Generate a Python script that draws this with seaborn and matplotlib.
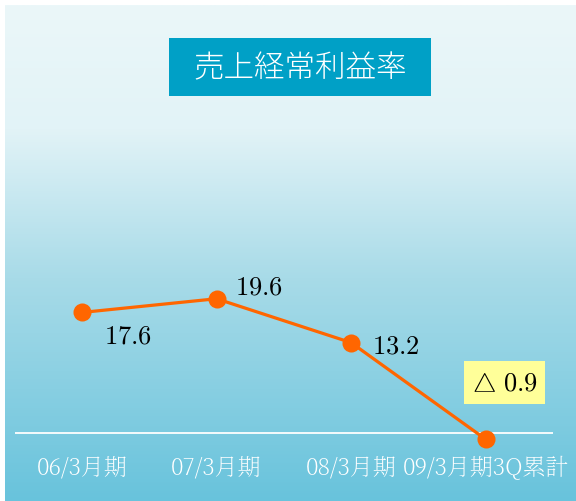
import numpy as np
import pandas as pd
import matplotlib
matplotlib.use("Agg")
import matplotlib.pyplot as plt
import seaborn as sns
from matplotlib.colors import LinearSegmentedColormap
from matplotlib.patches import Rectangle

categories = ["06/3月期", "07/3月期", "08/3月期", "09/3月期3Q累計"]
values = [17.6, 19.6, 13.2, -0.9]
value_labels = ["17.6", "19.6", "13.2", "△ 0.9"]
title = "売上経常利益率"

sns.set_theme(style="white")
plt.rcParams['font.family'] = ['Noto Sans CJK JP', 'DejaVu Sans']
plt.rcParams['mathtext.fontset'] = 'cm'

W, H = 576, 502
fig = plt.figure(figsize=(W / 100, H / 100), dpi=100)
fig.patch.set_facecolor("white")

# gradient background
bg = fig.add_axes([5 / W, 0, (W - 5) / W, (H - 6) / H])
cmap = LinearSegmentedColormap.from_list(
    "bg", [(0.0, "#ebf7f9"), (0.25, "#e2f3f7"), (0.55, "#a8dbe8"), (1.0, "#68c3dc")])
grad = np.linspace(0, 1, 256).reshape(-1, 1)
bg.imshow(grad, aspect="auto", cmap=cmap, extent=[0, 1, 1, 0])
bg.set_axis_off()

# main axes
px_per_unit = 6.85
zero_px = 434
top_px, bot_px = 120, 450
left_px, right_px = 14.75, 552.75
ax = fig.add_axes([left_px / W, (H - bot_px) / H, (right_px - left_px) / W, (bot_px - top_px) / H])
ax.patch.set_alpha(0)

df = pd.DataFrame({"x": np.arange(len(categories)), "v": values})
ax.axhline(0, color="white", lw=1.3, zorder=1)
sns.lineplot(data=df, x="x", y="v", ax=ax, color="#ff6600", lw=2.3,
             marker="o", markersize=13, markeredgewidth=0, zorder=3)

ax.set_xlim(-0.5, 3.5)
ax.set_ylim(-(bot_px - zero_px) / px_per_unit, (zero_px - top_px) / px_per_unit)
ax.set_xticks(df["x"])
ax.set_xticklabels(categories, color="white", fontsize=16.5,
                   fontfamily=['Noto Serif CJK JP', 'Noto Sans CJK JP', 'DejaVu Serif'],
                   fontweight="light")
ax.tick_params(axis="x", length=0, pad=5)
ax.set_yticks([])
ax.set_xlabel("")
ax.set_ylabel("")
for s in ax.spines.values():
    s.set_visible(False)

offsets = [(46, -23), (42, 13), (45, -2), (19, 57)]
for i, (v, lab, off) in enumerate(zip(values, value_labels, offsets)):
    if lab.startswith("△"):
        txt = r"$\bigtriangleup\ " + lab.replace("△", "").strip() + "$"
        ax.annotate(txt, (i, v), xytext=off, textcoords="offset pixels",
                    ha="center", va="center", fontsize=19, color="black",
                    bbox=dict(boxstyle="square,pad=0.3", fc="#ffff99", ec="none"))
    else:
        ax.annotate("$" + lab + "$", (i, v), xytext=off, textcoords="offset pixels",
                    ha="center", va="center", fontsize=19, color="black")

# title box
bx0, by0, bx1, by1 = 169, 39, 431, 97
fig.patches.append(Rectangle((bx0 / W, 1 - by1 / H), (bx1 - bx0) / W, (by1 - by0) / H,
                             transform=fig.transFigure, fc="#00a0c6", ec="none", zorder=5))
fig.text((bx0 + bx1) / 2 / W, 1 - (by0 + by1) / 2 / H, title, color="white",
         fontsize=22, ha="center", va="center", zorder=6, fontweight="light")

fig.savefig("out.png", dpi=100, facecolor="white")
